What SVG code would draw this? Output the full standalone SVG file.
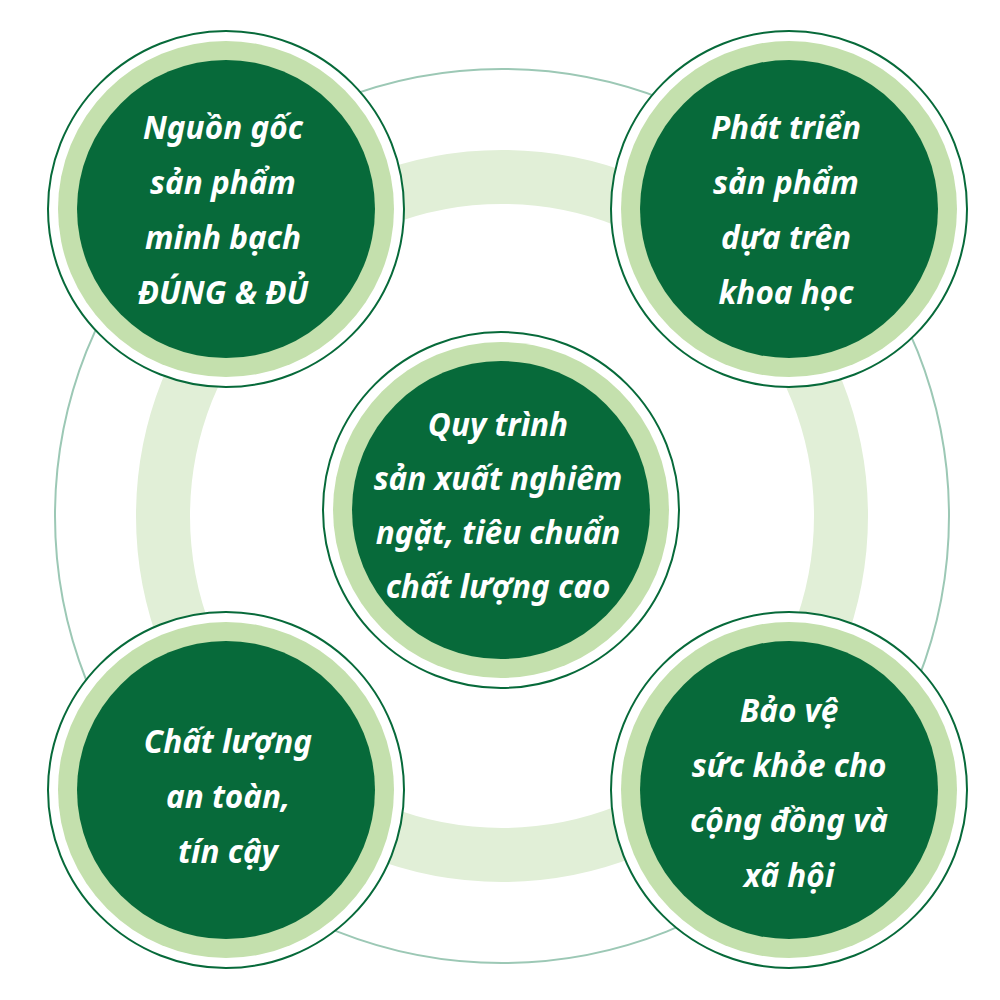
<svg xmlns="http://www.w3.org/2000/svg" width="1000" height="1000" viewBox="0 0 1000 1000">
<style>
.outer{fill:#ffffff;stroke:#076a3a;stroke-width:2}
.ring{fill:#c4e0ad}
.core{fill:#076a3a}
.lbl{font-family:"Noto Sans","DejaVu Sans",sans-serif;font-style:italic;font-weight:700;font-size:31.5px;fill:#ffffff;text-anchor:middle}
</style>
<rect width="1000" height="1000" fill="#ffffff"/>
<g id="connectors">
<circle cx="502" cy="516" r="447" fill="none" stroke="#9cc8b5" stroke-width="2"/>
<circle cx="502" cy="516" r="339" fill="none" stroke="#e1efd7" stroke-width="54"/>
</g>
<g id="node-top-left">
<circle class="outer" cx="226" cy="209" r="178"/>
<circle class="ring" cx="226" cy="209" r="168"/>
<circle class="core" cx="226" cy="209" r="149"/>
<text class="lbl" x="223" y="139">Nguồn gốc</text>
<text class="lbl" x="223" y="194">sản phẩm</text>
<text class="lbl" x="223" y="249">minh bạch</text>
<text class="lbl" x="223" y="304">ĐÚNG &amp; ĐỦ</text>
</g>
<g id="node-top-right">
<circle class="outer" cx="789" cy="209" r="178"/>
<circle class="ring" cx="789" cy="209" r="168"/>
<circle class="core" cx="789" cy="209" r="149"/>
<text class="lbl" x="786" y="139">Phát triển</text>
<text class="lbl" x="786" y="194">sản phẩm</text>
<text class="lbl" x="786" y="249">dựa trên</text>
<text class="lbl" x="786" y="304">khoa học</text>
</g>
<g id="node-center">
<circle class="outer" cx="501" cy="510" r="178"/>
<circle class="ring" cx="501" cy="510" r="168"/>
<circle class="core" cx="501" cy="510" r="149"/>
<text class="lbl" x="498" y="436">Quy trình</text>
<text class="lbl" x="498" y="490">sản xuất nghiêm</text>
<text class="lbl" x="498" y="544">ngặt, tiêu chuẩn</text>
<text class="lbl" x="498" y="598">chất lượng cao</text>
</g>
<g id="node-bottom-left">
<circle class="outer" cx="226" cy="790" r="178"/>
<circle class="ring" cx="226" cy="790" r="168"/>
<circle class="core" cx="226" cy="790" r="149"/>
<text class="lbl" x="228" y="753">Chất lượng</text>
<text class="lbl" x="228" y="808">an toàn,</text>
<text class="lbl" x="228" y="863">tín cậy</text>
</g>
<g id="node-bottom-right">
<circle class="outer" cx="789" cy="790" r="178"/>
<circle class="ring" cx="789" cy="790" r="168"/>
<circle class="core" cx="789" cy="790" r="149"/>
<text class="lbl" x="789" y="722">Bảo vệ</text>
<text class="lbl" x="789" y="777">sức khỏe cho</text>
<text class="lbl" x="789" y="832">cộng đồng và</text>
<text class="lbl" x="789" y="887">xã hội</text>
</g>
</svg>
